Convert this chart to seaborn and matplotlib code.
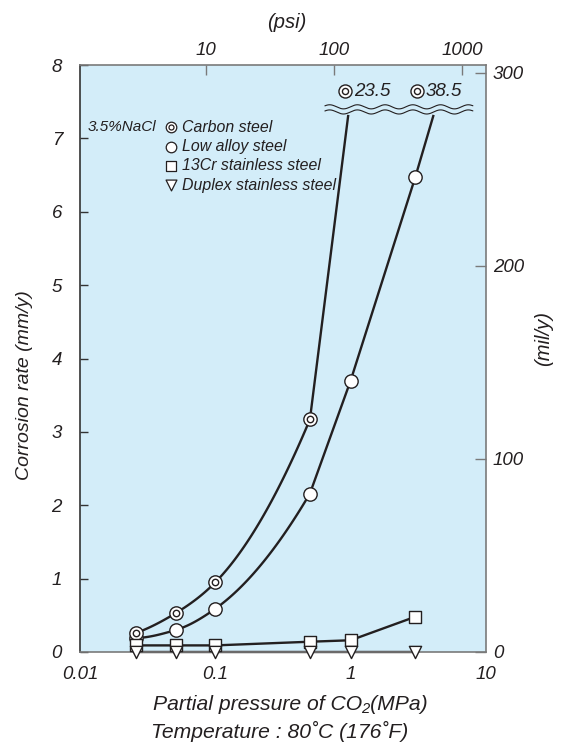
import numpy as np
import pandas as pd
import matplotlib
matplotlib.use("Agg")
import matplotlib.pyplot as plt
import seaborn as sns

# CO2 partial pressure (MPa) of each test point
pressure_mpa = [0.026, 0.051, 0.1, 0.5, 1.0, 3.0]

# Corrosion rates (mm/y) in 3.5% NaCl at 80 C
carbon_steel = [0.26, 0.53, 0.95, 3.17]          # first four pressures
low_alloy = [0.19, 0.30, 0.59, 2.16, 3.70, 6.47]
cr13_stainless = [0.09, 0.09, 0.09, 0.14, 0.16, 0.48]
duplex_stainless = [0.0, 0.0, 0.0, 0.0, 0.0, 0.0]

# Off-scale carbon steel rates (mm/y) printed above the axis break
offscale_rates = [23.5, 38.5]
# Pressures (MPa) where the two rising curves meet the break, and its level (mm/y)
break_pressure = [0.96, 4.1]
break_level = 7.32

legend_note = "3.5%NaCl"
legend_names = ["Carbon steel", "Low alloy steel", "13Cr stainless steel",
                "Duplex stainless steel"]

x_ticks = [0.01, 0.1, 1, 10]
x_ticklabels = ["0.01", "0.1", "1", "10"]
psi_ticks = [10, 100, 1000]
y_ticks = [0, 1, 2, 3, 4, 5, 6, 7, 8]
mil_ticks = [0, 100, 200, 300]

# Scale relations of the secondary axes as printed on the chart
MIL_PER_MM = 38.0
PSI_A, PSI_B = 2.130, 1.0573

INK = "#231f20"
BG = "#d3edf9"
SPINE = "#7a7a7a"

sns.set_theme(style="white")
plt.rcParams["font.family"] = ["Liberation Sans", "DejaVu Sans"]
plt.rcParams["font.style"] = "italic"
plt.rcParams["text.color"] = INK
plt.rcParams["axes.labelcolor"] = INK
plt.rcParams["xtick.color"] = INK
plt.rcParams["ytick.color"] = INK


def pchip(x, y, n=40):
    """Monotone cubic curve through (log10 x, y), sampled for drawing."""
    u = np.log10(np.asarray(x, float))
    y = np.asarray(y, float)
    h = np.diff(u)
    d = np.diff(y) / h
    m = np.zeros_like(y)
    for k in range(1, len(y) - 1):
        if d[k - 1] * d[k] > 0:
            w1 = 2 * h[k] + h[k - 1]
            w2 = h[k] + 2 * h[k - 1]
            m[k] = (w1 + w2) / (w1 / d[k - 1] + w2 / d[k])
    m[0] = ((2 * h[0] + h[1]) * d[0] - h[0] * d[1]) / (h[0] + h[1])
    if np.sign(m[0]) != np.sign(d[0]):
        m[0] = 0
    m[-1] = ((2 * h[-1] + h[-2]) * d[-1] - h[-1] * d[-2]) / (h[-1] + h[-2])
    if np.sign(m[-1]) != np.sign(d[-1]):
        m[-1] = 0
    us, ys = [], []
    for k in range(len(h)):
        t = np.linspace(0, 1, n, endpoint=(k == len(h) - 1))
        h00 = 2 * t**3 - 3 * t**2 + 1
        h10 = t**3 - 2 * t**2 + t
        h01 = -2 * t**3 + 3 * t**2
        h11 = t**3 - t**2
        us.append(u[k] + t * h[k])
        ys.append(h00 * y[k] + h10 * h[k] * m[k] + h01 * y[k + 1] + h11 * h[k] * m[k + 1])
    return list(10 ** np.concatenate(us)), list(np.concatenate(ys))


W, H = 563, 744
fig = plt.figure(figsize=(W / 100, H / 100), dpi=100)
fig.patch.set_facecolor("white")
ax = fig.add_axes([80 / W, (H - 652) / H, 406 / W, 587 / H])
ax.set_facecolor(BG)
ax.set_xscale("log")
ax.set_xlim(0.01, 10)
ax.set_ylim(0, 8)

# Curves: smooth through the low-pressure points, straight segments above 0.5 MPa
cs_x, cs_y = pchip(pressure_mpa[:4], carbon_steel)
cs_x += [break_pressure[0]]
cs_y += [break_level]
la_x, la_y = pchip(pressure_mpa[:4], low_alloy[:4])
la_x += pressure_mpa[4:] + [break_pressure[1]]
la_y += low_alloy[4:] + [break_level]
curves = pd.concat([
    pd.DataFrame({"p": cs_x, "rate": cs_y, "steel": legend_names[0]}),
    pd.DataFrame({"p": la_x, "rate": la_y, "steel": legend_names[1]}),
    pd.DataFrame({"p": pressure_mpa, "rate": cr13_stainless, "steel": legend_names[2]}),
    pd.DataFrame({"p": pressure_mpa, "rate": duplex_stainless, "steel": legend_names[3]}),
])
sns.lineplot(data=curves, x="p", y="rate", units="steel", estimator=None, sort=False,
             color=INK, lw=1.7, ax=ax, legend=False)
for ln in ax.lines:
    ln.set_clip_on(False)
    ln.set_solid_capstyle("butt")
    ln.set_solid_joinstyle("round")

# Markers (sizes in points)
mk = dict(facecolor="white", edgecolor=INK, linewidth=1.0, zorder=4, clip_on=False,
          legend=False, ax=ax)
sns.scatterplot(x=pressure_mpa, y=low_alloy, marker="o", s=9.6**2, **mk)
sns.scatterplot(x=pressure_mpa[:4], y=carbon_steel, marker="o", s=9.6**2, **mk)
sns.scatterplot(x=pressure_mpa[:4], y=carbon_steel, marker="o", s=4.6**2,
                **{**mk, "zorder": 5})
sns.scatterplot(x=pressure_mpa, y=cr13_stainless, marker="s", s=9.0**2,
                **{**mk, "zorder": 6})
sns.scatterplot(x=pressure_mpa, y=duplex_stainless, marker="v", s=8.8**2,
                **{**mk, "zorder": 7})

# Wavy axis break
u = np.linspace(np.log10(0.645), np.log10(8.0), 400)
for yc in (break_level + 0.11, break_level + 0.04):
    ax.plot(10 ** u, yc + 0.028 * np.sin(2 * np.pi * (u - u[0]) / 0.205 + 0.5),
            color=INK, lw=0.8, zorder=3)

# Off-scale values above the break
for xm, val in zip([0.653, 0.830], offscale_rates):
    ax.scatter([xm], [0.955], transform=ax.transAxes, s=9.4**2, marker="o",
               facecolor="white", edgecolor=INK, linewidth=1.0, zorder=5)
    ax.scatter([xm], [0.955], transform=ax.transAxes, s=4.4**2, marker="o",
               facecolor="white", edgecolor=INK, linewidth=1.0, zorder=6)
    ax.text(xm + 0.022, 0.955, f"{val}", transform=ax.transAxes, fontsize=13.5,
            va="center", ha="left")

# Legend block
rows = [0.894, 0.861, 0.828, 0.794]
lx, tx = 0.224, 0.251
ax.text(0.188, rows[0], legend_note, transform=ax.transAxes, fontsize=11,
        ha="right", va="center")
lg = dict(transform=ax.transAxes, facecolor="white", edgecolor=INK, linewidth=0.9,
          zorder=5, clip_on=False)
ax.scatter([lx], [rows[0]], s=7.6**2, marker="o", **lg)
ax.scatter([lx], [rows[0]], s=3.6**2, marker="o", **{**lg, "zorder": 6})
ax.scatter([lx], [rows[1]], s=7.6**2, marker="o", **lg)
ax.scatter([lx], [rows[2]], s=7.4**2, marker="s", **lg)
ax.scatter([lx], [rows[3] + 0.002], s=7.8**2, marker="v", **lg)
for r, name in zip(rows, legend_names):
    ax.text(tx, r, name, transform=ax.transAxes, fontsize=11.4, ha="left", va="center")

# Axes styling
for side in ("top", "right", "bottom"):
    ax.spines[side].set_color(SPINE)
    ax.spines[side].set_linewidth(1.2)
ax.spines["left"].set_color("#333333")
ax.spines["left"].set_linewidth(1.2)

ax.set_xticks(x_ticks)
ax.set_xticklabels(x_ticklabels)
ax.xaxis.set_minor_locator(matplotlib.ticker.NullLocator())
ax.tick_params(axis="x", which="both", length=0, pad=10, labelsize=13.5)
ax.set_yticks(y_ticks)
ax.set_yticklabels([str(v) for v in y_ticks])
ax.tick_params(axis="y", direction="in", length=6, width=1, color="#333333",
               pad=13, labelsize=13.5, left=True)
ax.set_xlabel("")
ax.set_ylabel("")

# Top axis in psi
fwd_psi = lambda x: 10 ** (PSI_A + PSI_B * np.log10(np.clip(x, 1e-12, None)))
inv_psi = lambda p: 10 ** ((np.log10(np.clip(p, 1e-12, None)) - PSI_A) / PSI_B)
top = ax.secondary_xaxis("top", functions=(fwd_psi, inv_psi))
top.set_xticks(psi_ticks)
top.set_xticklabels([str(v) for v in psi_ticks])
top.xaxis.set_minor_locator(matplotlib.ticker.NullLocator())
top.tick_params(direction="in", length=7, width=1, color=SPINE, pad=4, labelsize=13.5)
top.spines["top"].set_visible(False)

# Right axis in mil/y
right = ax.secondary_yaxis("right", functions=(lambda y: y * MIL_PER_MM,
                                               lambda m: m / MIL_PER_MM))
right.set_yticks(mil_ticks)
right.set_yticklabels([str(v) for v in mil_ticks])
right.tick_params(direction="in", length=8, width=1, color=SPINE, pad=5, labelsize=13.5)
right.spines["right"].set_visible(False)

# Axis titles
TITLE_FS = 15.2
fig.text(287 / W, 1 - 22 / H, "(psi)", fontsize=14.5, ha="center", va="center")
fig.text(25 / W, 1 - 385 / H, "Corrosion rate (mm/y)", fontsize=14, rotation=90,
         ha="center", va="center")
fig.text(544 / W, 1 - 338 / H, "(mil/y)", fontsize=14.5, rotation=90,
         ha="center", va="center")
fig.text(290 / W, 1 - 705 / H, "Partial pressure of CO\u2082(MPa)", fontsize=TITLE_FS,
         ha="center", va="center")
fig.text(280 / W, 1 - 731 / H, "Temperature : 80\u02daC (176\u02daF)", fontsize=TITLE_FS,
         ha="center", va="center")

fig.savefig("out.png", dpi=100, facecolor="white")
